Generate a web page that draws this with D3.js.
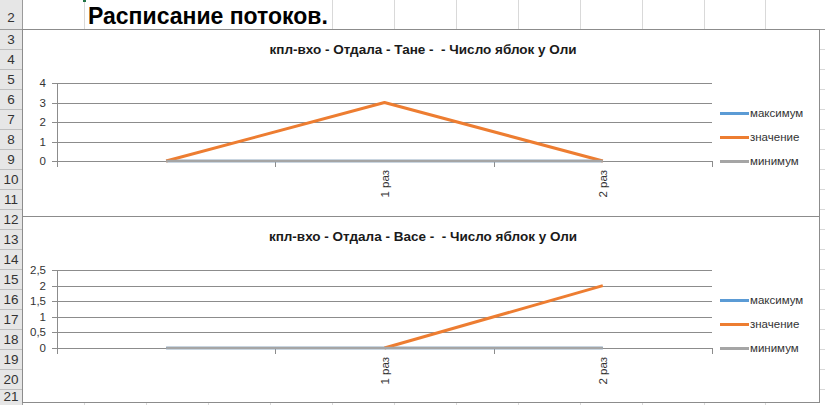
<!DOCTYPE html>
<html><head><meta charset="utf-8">
<script src="https://cdn.jsdelivr.net/npm/d3@7"></script>
<style>body{margin:0;background:#fff;}svg{display:block;font-family:"Liberation Sans",Arial,sans-serif;}text{white-space:pre;}</style>
</head><body>
<svg id="c" width="825" height="405"></svg>
<script>
const categories = ["", "1 раз", "2 раз"];
const seriesNames = ["максимум", "значение", "минимум"];
const seriesColors = ["#5B9BD5", "#ED7D31", "#A5A5A5"];
// chart 1
const chart1Title = "кпл-вхо - Отдала - Тане -  - Число яблок у Оли";
const chart1Max = [0, 0, 0];
const chart1Val = [0, 3, 0];
const chart1Min = [0, 0, 0];
const chart1Ticks = [0, 1, 2, 3, 4];
// chart 2
const chart2Title = "кпл-вхо - Отдала - Васе -  - Число яблок у Оли";
const chart2Max = [0, 0, 0];
const chart2Val = [null, 0, 2];
const chart2Min = [0, 0, 0];
const chart2Ticks = [0, 0.5, 1, 1.5, 2, 2.5];
const rowNumbers = d3.range(2, 22);
const sheetTitle = "Расписание потоков.";

const svg = d3.select("#c");
const W = 825, H = 405;
const colLines = d3.range(0, 12).map(i => 84 + i * 61.95);
const rowTop = n => n === 2 ? 0 : 29 + (n - 3) * 20;
const g0 = svg.append("g");
colLines.forEach((x, i) => {
  const xx = Math.round(x) + 0.5;
  const y0 = (i >= 1 && i <= 3) ? 29 : 0;
  g0.append("line").attr("x1", xx).attr("x2", xx).attr("y1", y0).attr("y2", H).attr("stroke", "#d9d9d9");
});
rowNumbers.forEach(n => {
  const y = rowTop(n + 1);
  if (n + 1 <= 21) g0.append("line").attr("x1", 22).attr("x2", W).attr("y1", Math.round(y) + 0.5).attr("y2", Math.round(y) + 0.5).attr("stroke", "#d9d9d9");
});
g0.append("rect").attr("x", 0).attr("y", 0).attr("width", 22).attr("height", H).attr("fill", "#e6e6e6");
rowNumbers.forEach(n => {
  const t = rowTop(n), b = n === 21 ? H : rowTop(n + 1);
  g0.append("line").attr("x1", 0).attr("x2", 22).attr("y1", Math.round(b) + 0.5).attr("y2", Math.round(b) + 0.5).attr("stroke", "#bfbfbf");
  const ty = n === 2 ? 18 : (n === 21 ? t + 8 : t + 11);
  g0.append("text").attr("x", 11).attr("y", ty).attr("text-anchor", "middle").attr("dominant-baseline", "middle")
    .attr("font-size", 13.5).attr("fill", "#333").text(n);
});
g0.append("line").attr("x1", 22.5).attr("x2", 22.5).attr("y1", 0).attr("y2", H).attr("stroke", "#9b9b9b");
g0.append("line").attr("x1", 0).attr("x2", W).attr("y1", 29.5).attr("y2", 29.5).attr("stroke", "#9b9b9b");
g0.append("rect").attr("x", 83).attr("y", 0).attr("width", 3).attr("height", 2).attr("fill", "#217346");
g0.append("text").attr("x", 88).attr("y", 24).attr("font-size", 23).attr("font-weight", "bold").attr("fill", "#000").text(sheetTitle);

function drawChart(top, bottom, title, maxV, val, minV, ticks, yMax, plotTop, plotBottom, fmtComma) {
  const g = svg.append("g");
  g.append("rect").attr("x", 22.5).attr("y", top + 0.5).attr("width", 797).attr("height", bottom - top).attr("fill", "#fff").attr("stroke", "#8c8c8c");
  g.append("text").attr("x", 423).attr("y", top + 25).attr("text-anchor", "middle").attr("font-size", 13.5).attr("font-weight", "bold").attr("fill", "#1a1a1a").text(title);
  const x = d3.scaleBand().domain(d3.range(categories.length)).range([57, 712]).padding(0);
  const y = d3.scaleLinear().domain([0, yMax]).range([plotBottom, plotTop]);
  const fmt = v => fmtComma ? String(v).replace(".", ",") : String(v);
  ticks.forEach(t => {
    const yy = Math.round(y(t)) + 0.5;
    g.append("line").attr("x1", 57).attr("x2", 712).attr("y1", yy).attr("y2", yy).attr("stroke", "#8c8c8c");
    g.append("line").attr("x1", 52).attr("x2", 57).attr("y1", yy).attr("y2", yy).attr("stroke", "#8c8c8c");
    g.append("text").attr("x", 46).attr("y", yy).attr("dominant-baseline", "middle").attr("text-anchor", "end").attr("font-size", 11.5).attr("fill", "#333").text(fmt(t));
  });
  g.append("line").attr("x1", 57.5).attr("x2", 57.5).attr("y1", Math.round(y(yMax))).attr("y2", Math.round(y(0)) + 6).attr("stroke", "#8c8c8c");
  const bounds = d3.range(categories.length).map(i => x(i)).concat([x(categories.length - 1) + x.bandwidth()]);
  bounds.forEach(b => {
    const xx = Math.round(b) + 0.5;
    g.append("line").attr("x1", xx).attr("x2", xx).attr("y1", Math.round(y(0))).attr("y2", Math.round(y(0)) + 6).attr("stroke", "#8c8c8c");
  });
  categories.forEach((c, i) => {
    const cx = x(i) + x.bandwidth() / 2 + 1;
    g.append("text").attr("transform", `translate(${cx},${y(0) + 9}) rotate(-90)`).attr("text-anchor", "end").attr("dominant-baseline", "middle")
      .attr("font-size", 11.5).attr("fill", "#333").text(c);
  });
  const line = d3.line().defined(d => d != null).x((d, i) => x(i) + x.bandwidth() / 2).y(d => y(d));
  [maxV, val, minV].forEach((s, k) => {
    g.append("path").attr("d", line(s)).attr("fill", "none").attr("stroke", seriesColors[k]).attr("stroke-width", k === 1 ? 3 : 2.5).attr("stroke-linejoin", "round");
  });
  seriesNames.forEach((n, k) => {
    const ly = plotBottom - 48 + k * 24 + 0.5;
    g.append("line").attr("x1", 720).attr("x2", 749).attr("y1", ly).attr("y2", ly).attr("stroke", seriesColors[k]).attr("stroke-width", 3);
    g.append("text").attr("x", 750).attr("y", ly).attr("dominant-baseline", "middle").attr("font-size", 11.5).attr("fill", "#333").text(n);
  });
}
drawChart(29, 216, chart1Title, chart1Max, chart1Val, chart1Min, chart1Ticks, 4, 83, 161, false);
drawChart(216, 402, chart2Title, chart2Max, chart2Val, chart2Min, chart2Ticks, 2.5, 270, 348, true);
</script>
</body></html>
